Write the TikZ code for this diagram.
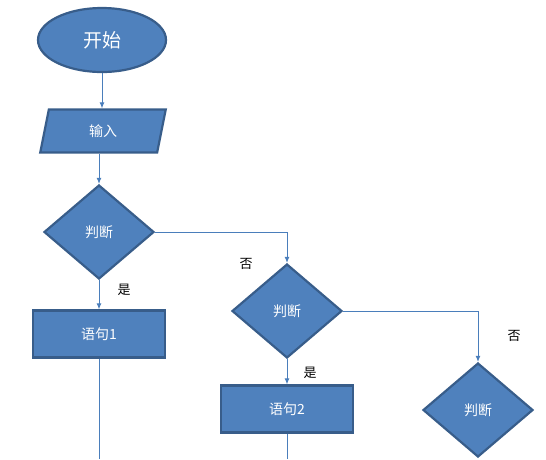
\documentclass[tikz,border=0pt]{standalone}
\usepackage{fontspec}
\setmainfont{Noto Sans CJK SC}
\usetikzlibrary{shapes.geometric,arrows.meta}
\definecolor{blockfill}{HTML}{4F81BD}
\definecolor{blockline}{HTML}{385D8A}
\definecolor{linkblue}{HTML}{4A7EBB}
\tikzset{
	box/.style={draw=blockline,fill=blockfill,line width=2.2pt,text=white,font=\fontsize{14}{16}\selectfont},
	test/.style={box,diamond,minimum width=110pt,minimum height=94pt,inner sep=0pt},
	stmt/.style={box,minimum width=132pt,minimum height=47pt},
	link/.style={draw=linkblue,line width=1pt,-{Latex[length=6pt,width=5pt]}},
	tail/.style={draw=linkblue,line width=1pt},
	lbl/.style={font=\fontsize{13}{15}\selectfont}
}
\begin{document}
\begin{tikzpicture}[x=1pt,y=-1pt]
				\useasboundingbox (0,0) rectangle (546,459);
				
				\node[box,ellipse,minimum width=128pt,minimum height=64pt,font=\fontsize{19}{21}\selectfont] (start) at (102,40) {开始};
				\node[box,trapezium,trapezium left angle=82,trapezium right angle=98,trapezium stretches=true,minimum width=126pt,minimum height=43pt] (in) at (103,131) {输入};
				\node[test] (d1) at (99,232) {判断};
				\node[stmt] (s1) at (99,334) {语句1};
				\node[test] (d2) at (287,311) {判断};
				\node[stmt] (s2) at (287,409) {语句2};
				\node[test] (d3) at (478,410) {判断};
				
				\coordinate (e1) at (99,459);
				\coordinate (e2) at (287,459);
				
				\draw[link] (start) -- (start |- in.north);
				\draw[link] (in.south -| d1.north) -- (d1.north);
				\draw[link] (d1) -- (s1);
				\draw[link] (d1.east) -| (d2.north);
				\draw[link] (d2) -- (s2);
				\draw[link] (d2.east) -| (d3.north);
				\draw[tail] (s1) -- (e1);
				\draw[tail] (s2) -- (e2);
				
				\node[lbl] (y1) at (124,290) {是};
				\node[lbl] (n1) at (246,264) {否};
				\node[lbl] (y2) at (310,373) {是};
				\node[lbl] (n2) at (514,336) {否};
			\end{tikzpicture}
\end{document}
